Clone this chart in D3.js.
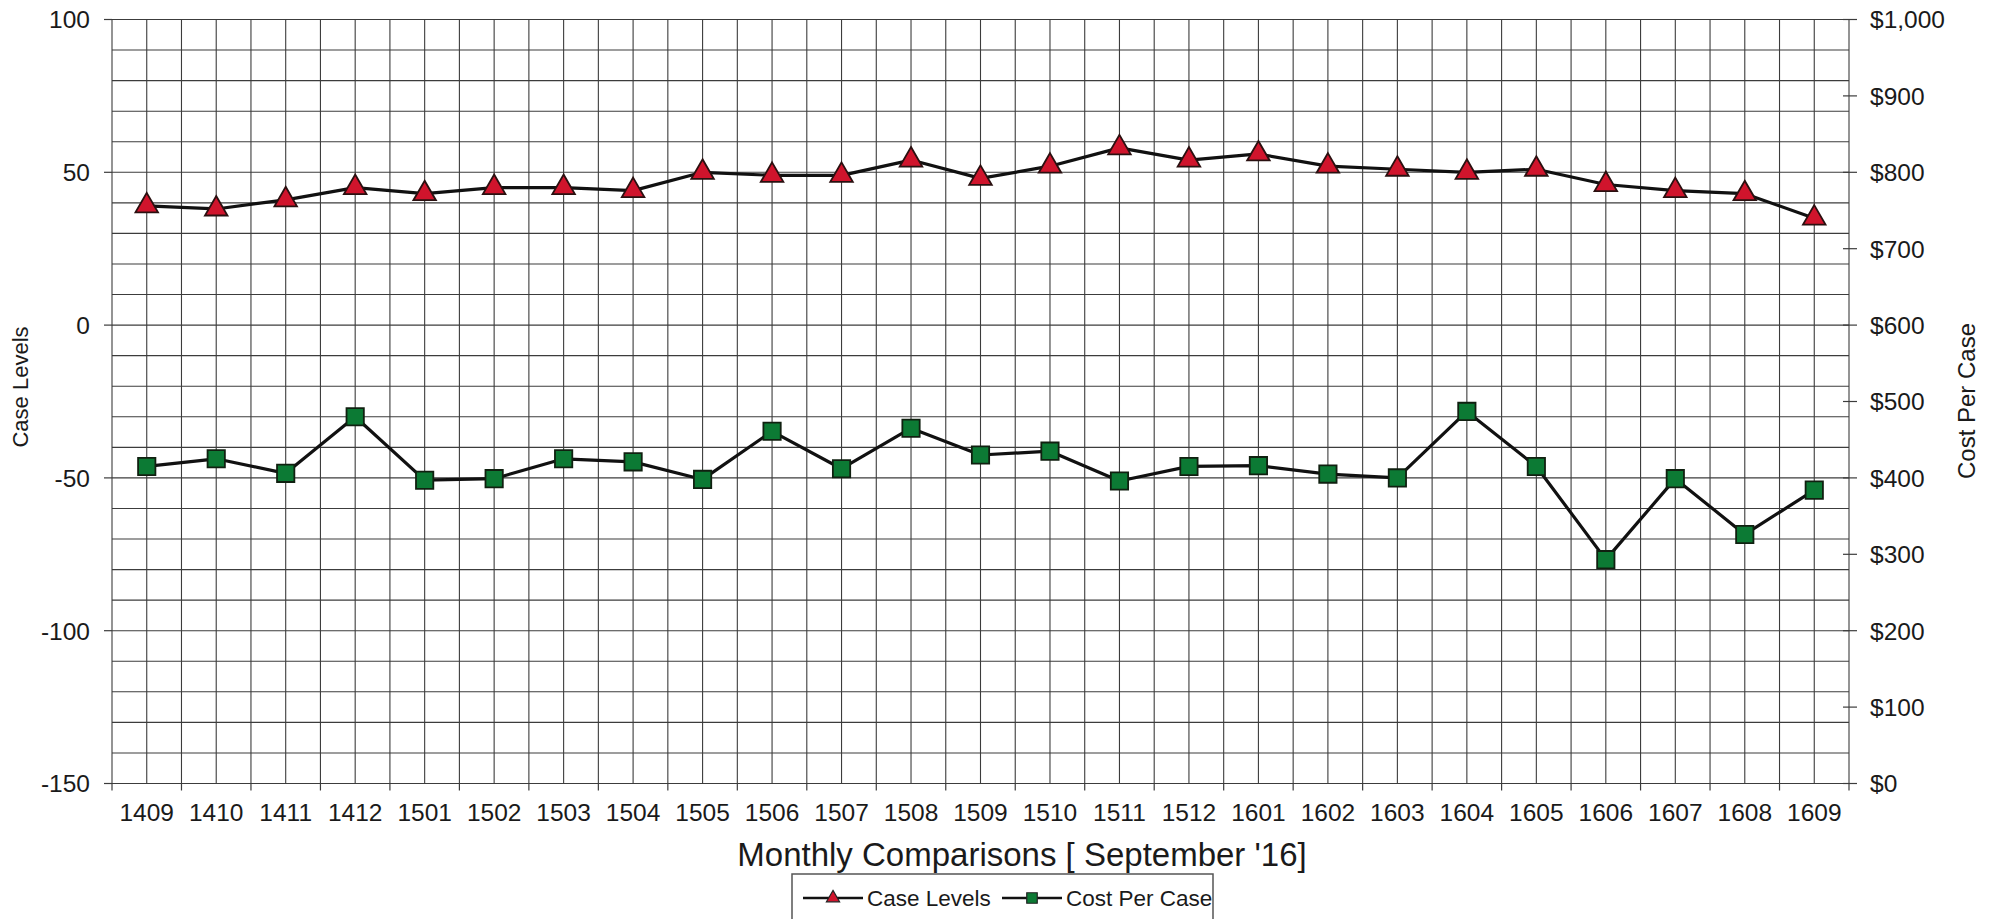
<!DOCTYPE html>
<meta charset="utf-8">
<style>
    body { margin: 0; background: #fff; }
    text { font-family: 'Liberation Sans', Arial, sans-serif; fill: #1a1a1a; }
    .grid line { stroke: #3c3c3c; stroke-width: 1.1px; }
    .tick-mark { stroke: #3c3c3c; stroke-width: 1.2px; }
    .tick-label { font-size: 24.5px; }
    .chart-title { font-size: 33px; }
    .series-line { fill: none; stroke: #111; stroke-width: 3.2px; stroke-linejoin: round; }
    .legend-box { fill: #fff; stroke: #555; stroke-width: 1.5px; }
    .legend-label { font-size: 22.5px; }
</style>
<body>
<div id="chart"></div>
<script src="https://cdnjs.cloudflare.com/ajax/libs/d3/7.8.5/d3.min.js"></script>
<script>
    var width = 1994,
        height = 919;

    var plot_left = 112,
        plot_right = 1849,
        plot_top = 19.5,
        plot_bottom = 783.5;

    // months, yymm
    var months = ["1409", "1410", "1411", "1412",
                  "1501", "1502", "1503", "1504", "1505", "1506",
                  "1507", "1508", "1509", "1510", "1511", "1512",
                  "1601", "1602", "1603", "1604", "1605", "1606",
                  "1607", "1608", "1609"];

    var case_levels = [39, 38, 41, 45, 43, 45, 45, 44, 50, 49,
                       49, 54, 48, 52, 58, 54, 56, 52, 51, 50,
                       51, 46, 44, 43, 35];

    var cost_per_case = [415, 425, 406, 480, 397, 399, 425, 421, 398, 461,
                         412, 465, 430, 435, 396, 415, 416, 405, 400, 487,
                         415, 293, 399, 326, 384];

    var left_ticks = [-150, -100, -50, 0, 50, 100];
    var right_ticks = [0, 100, 200, 300, 400, 500, 600, 700, 800, 900, 1000];

    var svg = d3.select("#chart").append("svg")
        .attr("width", width)
        .attr("height", height);

    var x = d3.scaleBand()
        .domain(months)
        .range([plot_left, plot_right]);

    var yLeft = d3.scaleLinear()
        .domain([-150, 100])
        .range([plot_bottom, plot_top]);

    var yRight = d3.scaleLinear()
        .domain([0, 1000])
        .range([plot_bottom, plot_top]);

    var half = x.bandwidth() / 2;

    // grid: every 10 on the left scale, every half month across
    var grid = svg.append("g").attr("class", "grid");

    grid.selectAll(".h")
        .data(d3.range(-150, 101, 10))
        .enter().append("line")
        .attr("x1", plot_left)
        .attr("x2", plot_right)
        .attr("y1", d => yLeft(d))
        .attr("y2", d => yLeft(d));

    var vlines = [];
    months.forEach(m => { vlines.push(x(m)); vlines.push(x(m) + half); });
    vlines.push(plot_right);

    grid.selectAll(".v")
        .data(vlines)
        .enter().append("line")
        .attr("x1", d => d)
        .attr("x2", d => d)
        .attr("y1", plot_top)
        .attr("y2", plot_bottom);

    // left axis
    svg.selectAll(".left-tick")
        .data(left_ticks)
        .enter().append("line")
        .attr("class", "tick-mark")
        .attr("x1", plot_left - 8)
        .attr("x2", plot_left)
        .attr("y1", d => yLeft(d))
        .attr("y2", d => yLeft(d));

    svg.selectAll(".left-label")
        .data(left_ticks)
        .enter().append("text")
        .attr("class", "tick-label")
        .attr("x", 90)
        .attr("y", d => yLeft(d))
        .attr("dy", "0.36em")
        .attr("text-anchor", "end")
        .text(d => d);

    // right axis
    svg.selectAll(".right-tick")
        .data(right_ticks)
        .enter().append("line")
        .attr("class", "tick-mark")
        .attr("x1", plot_right - 6)
        .attr("x2", plot_right + 8)
        .attr("y1", d => yRight(d))
        .attr("y2", d => yRight(d));

    svg.selectAll(".right-label")
        .data(right_ticks)
        .enter().append("text")
        .attr("class", "tick-label")
        .attr("x", 1870)
        .attr("y", d => yRight(d))
        .attr("dy", "0.36em")
        .text(d => d3.format("$,")(d));

    // x axis
    var xticks = months.map(m => x(m));
    xticks.push(plot_right);

    svg.selectAll(".x-tick")
        .data(xticks)
        .enter().append("line")
        .attr("class", "tick-mark")
        .attr("x1", d => d)
        .attr("x2", d => d)
        .attr("y1", plot_bottom)
        .attr("y2", plot_bottom + 7);

    svg.selectAll(".x-label")
        .data(months)
        .enter().append("text")
        .attr("class", "tick-label")
        .attr("x", d => x(d) + half)
        .attr("y", 821)
        .attr("text-anchor", "middle")
        .text(d => d);

    // titles
    svg.append("text")
        .attr("transform", "translate(28,387) rotate(-90)")
        .attr("text-anchor", "middle")
        .style("font-size", "22px")
        .text("Case Levels");

    svg.append("text")
        .attr("transform", "translate(1975,401) rotate(-90)")
        .attr("text-anchor", "middle")
        .style("font-size", "24px")
        .text("Cost Per Case");

    svg.append("text")
        .attr("class", "chart-title")
        .attr("x", 1022)
        .attr("y", 866)
        .attr("text-anchor", "middle")
        .text("Monthly Comparisons [ September '16]");

    // series
    var caseLine = d3.line()
        .x((d, i) => x(months[i]) + half)
        .y(d => yLeft(d));

    var costLine = d3.line()
        .x((d, i) => x(months[i]) + half)
        .y(d => yRight(d));

    svg.append("path")
        .datum(case_levels)
        .attr("class", "series-line")
        .attr("d", caseLine);

    svg.append("path")
        .datum(cost_per_case)
        .attr("class", "series-line")
        .attr("d", costLine);

    var triangle = d3.symbol().type(d3.symbolTriangle).size(220);
    var square = d3.symbol().type(d3.symbolSquare).size(300);

    svg.selectAll(".case-point")
        .data(case_levels)
        .enter().append("path")
        .attr("class", "case-point")
        .attr("d", triangle)
        .attr("transform", (d, i) => "translate(" + (x(months[i]) + half) + "," + yLeft(d) + ")")
        .attr("fill", "#d0142c")
        .attr("stroke", "#2a1010")
        .attr("stroke-width", 1.8);

    svg.selectAll(".cost-point")
        .data(cost_per_case)
        .enter().append("path")
        .attr("class", "cost-point")
        .attr("d", square)
        .attr("transform", (d, i) => "translate(" + (x(months[i]) + half) + "," + yRight(d) + ")")
        .attr("fill", "#0c7a34")
        .attr("stroke", "#102010")
        .attr("stroke-width", 1.8);

    // legend
    var legend = svg.append("g");

    legend.append("rect")
        .attr("class", "legend-box")
        .attr("x", 792)
        .attr("y", 874)
        .attr("width", 421)
        .attr("height", 70);

    var legend_items = [
        {label: "Case Levels", x0: 803, sym: d3.symbol().type(d3.symbolTriangle).size(75), fill: "#d0142c"},
        {label: "Cost Per Case", x0: 1002, sym: d3.symbol().type(d3.symbolSquare).size(110), fill: "#0c7a34"}
    ];

    legend_items.forEach(item => {
        legend.append("line")
            .attr("x1", item.x0)
            .attr("x2", item.x0 + 60)
            .attr("y1", 898)
            .attr("y2", 898)
            .attr("stroke", "#111")
            .attr("stroke-width", 2.5);
        legend.append("path")
            .attr("d", item.sym)
            .attr("transform", "translate(" + (item.x0 + 30) + ",898)")
            .attr("fill", item.fill)
            .attr("stroke", "#222")
            .attr("stroke-width", 1.2);
        legend.append("text")
            .attr("class", "legend-label")
            .attr("x", item.x0 + 64)
            .attr("y", 906)
            .text(item.label);
    });
</script>
</body>
